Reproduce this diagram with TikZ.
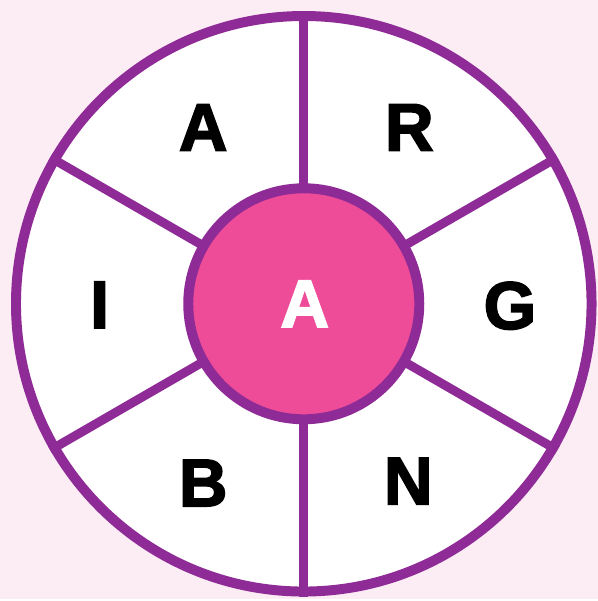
\documentclass[tikz,border=0pt]{standalone}
\usepackage{fontspec}
\setmainfont{Liberation Sans}[BoldFeatures={FakeBold=2.4}]
\definecolor{bgpink}{HTML}{FCEDF5}
\definecolor{rimpurple}{HTML}{8F2B97}
\definecolor{hubpink}{HTML}{EE4C98}

\begin{document}
\begin{tikzpicture}[x=0.02cm,y=-0.02cm,
    letter/.style={font=\fontsize{38.5}{38.5}\selectfont\bfseries},
    spoke/.style={rimpurple,line width=0.18cm}]
  \fill[bgpink] (0,0) rectangle (600,601);
  \node[circle,draw=rimpurple,fill=white,line width=0.2cm,minimum size=11.56cm,inner sep=0pt] (rim) at (305,305) {};
  \node[circle,inner sep=0pt,minimum size=4.64cm] (hubspot) at (305,305) {};
  \foreach \a in {90,30,-30,-90,-150,150}
    \draw[spoke] (hubspot.\a) -- (rim.\a);
  \node[circle,draw=rimpurple,fill=hubpink,line width=0.2cm,minimum size=4.64cm,inner sep=0pt] (hub) at (305,305) {};
  \node[letter,text=white] (c) at (306,305) {A};
  \node[letter] (l1) at (204,128) {A};
  \node[letter] (l2) at (411,128) {R};
  \node[letter] (l3) at (512,307) {G};
  \node[letter] (l4) at (410,483) {N};
  \node[letter] (l5) at (204,485) {B};
  \node[letter] (l6) at (100,306) {I};
\end{tikzpicture}
\end{document}
